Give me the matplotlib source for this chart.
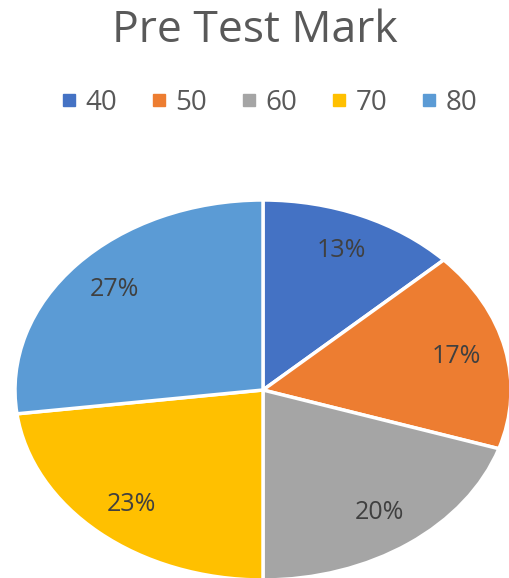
import matplotlib.pyplot as plt
from matplotlib.lines import Line2D

marks = ["40", "50", "60", "70", "80"]
shares = [13, 17, 20, 23, 27]
colours = ["#4472C4", "#ED7D31", "#A5A5A5", "#FFC000", "#5B9BD5"]

plt.rcParams['font.family'] = ['Open Sans', 'DejaVu Sans']

fig = plt.figure(figsize=(5.09, 5.78), dpi=100)
# pie is stretched sideways in the original, so use a non-equal aspect
ax = fig.add_axes([15/509, -2/578, 496/509, 380/578])

wedges, texts, autotexts = ax.pie(
    shares, colors=colours, startangle=90, counterclock=False,
    autopct="%1.0f%%", pctdistance=0.8,
    wedgeprops=dict(edgecolor="white", linewidth=2.5),
    textprops=dict(color="#404040", fontsize=18))
ax.set_aspect('auto')
ax.set_xlim(-1, 1)
ax.set_ylim(-1, 1)

fig.text(0.5, 1 - 31/578, "Pre Test Mark", ha="center", va="center",
         fontsize=32, color="#595959")

handles = [Line2D([], [], marker="s", linestyle="none", markersize=8,
                  markerfacecolor=c, markeredgecolor=c) for c in colours]
fig.legend(handles, marks, loc="center", bbox_to_anchor=(0.5 + 13/509, 1 - 103/578),
           ncol=5, frameon=False, fontsize=20, labelcolor="#595959",
           handletextpad=0.2, columnspacing=1.1, handlelength=0.8)

fig.savefig("out.png", dpi=100)
